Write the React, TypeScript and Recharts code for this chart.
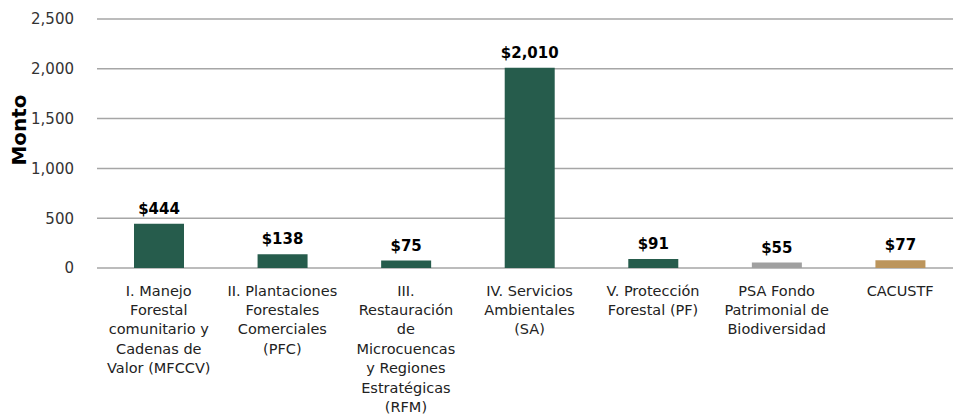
import React from 'react';
import { BarChart, Bar, XAxis, YAxis, CartesianGrid, LabelList, Cell } from 'recharts';

const categories: string[][] = [
    ['I. Manejo', 'Forestal', 'comunitario y', 'Cadenas de', 'Valor (MFCCV)'],
    ['II. Plantaciones', 'Forestales', 'Comerciales', '(PFC)'],
    ['III.', 'Restauración', 'de', 'Microcuencas', 'y Regiones', 'Estratégicas', '(RFM)'],
    ['IV. Servicios', 'Ambientales', '(SA)'],
    ['V. Protección', 'Forestal (PF)'],
    ['PSA Fondo', 'Patrimonial de', 'Biodiversidad'],
    ['CACUSTF'],
];
const montos = [444, 138, 75, 2010, 91, 55, 77];
const colores = ['#265c4c', '#265c4c', '#265c4c', '#265c4c', '#265c4c', '#a0a0a0', '#bc955c'];
const yTicks = [0, 500, 1000, 1500, 2000, 2500];

const data = categories.map((lines, i) => ({ name: lines.join(' '), lines, monto: montos[i] }));

const FONT = "'DejaVu Sans', sans-serif";

// tick del eje X en varias líneas
const CategoryTick = (props: any) => {
    const { x, y, index } = props;
    const lines = categories[index] || [];
    return (
        <text x={x} y={y} textAnchor="middle" fill="#222" fontSize={14.5} fontFamily={FONT}>
            {lines.map((l, i) => (
                <tspan key={i} x={x} dy={i === 0 ? 19.5 : 19.4}>{l}</tspan>
            ))}
        </text>
    );
};

export default function App() {
    return (
        <div style={{ position: 'absolute', left: 0, top: 0, width: 953, height: 416, overflow: 'hidden', background: '#fff' }}>
            <BarChart
                width={962}
                height={416}
                data={data}
                margin={{ top: 19, right: 0, bottom: 0, left: 0 }}
                barCategoryGap="30%"
            >
                <CartesianGrid vertical={false} stroke="#a6a6a6" strokeWidth={1.5} />
                <XAxis
                    dataKey="name"
                    height={148}
                    axisLine={false}
                    tickLine={false}
                    interval={0}
                    tick={<CategoryTick />}
                />
                <YAxis
                    width={97}
                    domain={[0, 2500]}
                    ticks={yTicks}
                    axisLine={false}
                    tickLine={false}
                    tickMargin={17}
                    tickFormatter={(v: number) => v.toLocaleString('en-US')}
                    tick={{ fill: '#333', fontSize: 15, fontFamily: FONT }}
                    label={{
                        content: () => (
                            <text
                                x={26}
                                y={130}
                                transform="rotate(-90 26 130)"
                                textAnchor="middle"
                                fill="#000"
                                fontSize={20}
                                fontWeight="bold"
                                fontFamily={FONT}
                            >
                                Monto
                            </text>
                        ),
                    }}
                />
                <Bar dataKey="monto" isAnimationActive={false} barSize={50}>
                    {data.map((_, i) => (
                        <Cell key={i} fill={colores[i]} />
                    ))}
                    <LabelList
                        dataKey="monto"
                        position="top"
                        offset={10}
                        formatter={(v: any) => `$${Number(v).toLocaleString('en-US')}`}
                        style={{ fill: '#000', fontSize: 15, fontWeight: 'bold', fontFamily: FONT }}
                    />
                </Bar>
            </BarChart>
        </div>
    );
}
